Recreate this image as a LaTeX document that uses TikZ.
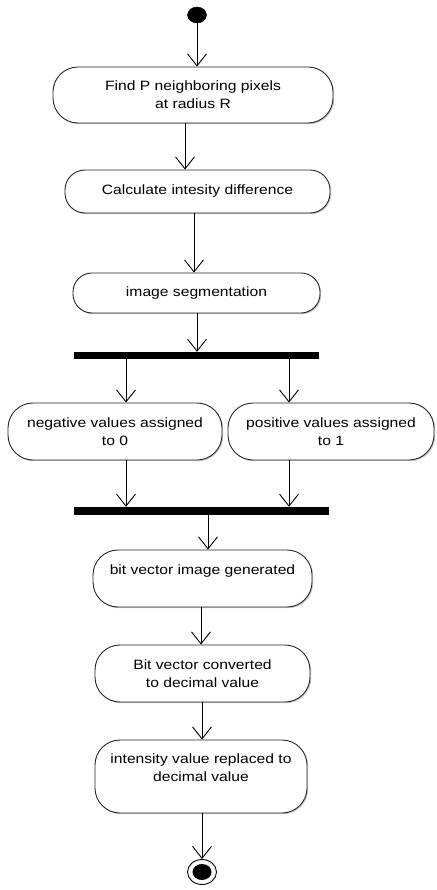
\documentclass[tikz,border=0pt]{standalone}
\usepackage{fontspec}
\setmainfont{Liberation Sans}[FakeStretch=1.16]
\usetikzlibrary{arrows.meta,shadows,shapes.geometric}
\tikzset{
  act/.style={draw=black!85, line width=0.9pt, fill=white, rounded corners=25pt,
    drop shadow={shadow xshift=1.2pt, shadow yshift=-1.2pt, fill=black!35, opacity=0.6},
    align=center, inner sep=0pt, font=\fontsize{13.5}{18}\selectfont},
  syncbar/.style={fill=black, draw=none, inner sep=0pt},
  flow/.style={draw=black, line width=0.9pt,
    -{Straight Barb[length=12pt, width=19pt, line width=0.9pt]}},
  initial/.style={ellipse, fill=black, draw=black, inner sep=0pt, minimum width=19pt, minimum height=16pt},
  final/.style={ellipse, draw=black, line width=0.9pt, fill=white, inner sep=0pt, minimum width=29pt, minimum height=25pt},
}
\begin{document}
\begin{tikzpicture}[x=1pt, y=-1pt]
\useasboundingbox (0,0) rectangle (436,890);

% start and activities
\node[initial] (start) at (197,15) {};
\node[act, minimum width=280pt, minimum height=56pt] (b1) at (193,95)
  {Find P neighboring pixels\\at radius R};
\node[act, rounded corners=20pt, minimum width=265pt, minimum height=43pt] (b2) at (197.5,191.5)
  {Calculate intesity difference};
\node[act, rounded corners=19pt, minimum width=247pt, minimum height=40pt] (b3) at (196.5,293)
  {image segmentation};
\node[syncbar, minimum width=245pt, minimum height=7pt] (fork) at (196.5,355.5) {};
\node[act, minimum width=214pt, minimum height=57pt] (b4) at (115,431.5)
  {negative values assigned\\to 0};
\node[act, minimum width=206pt, minimum height=57pt] (b5) at (331,431.5)
  {positive values assigned\\to 1};
\node[syncbar, minimum width=255pt, minimum height=8pt] (join) at (201.5,511) {};
\node[act, minimum width=219pt, minimum height=57pt] (b6) at (202.5,578.5)
  {bit vector image generated\\\mbox{}};
\node[act, minimum width=215pt, minimum height=57pt] (b7) at (202.5,673.5)
  {Bit vector converted\\to decimal value};
\node[act, minimum width=212pt, minimum height=73pt] (b8) at (201,776.5)
  {intensity value replaced to\\decimal value\\\mbox{}};
\node[final] (end) at (202,872) {};
\node[ellipse, fill=black, inner sep=0pt, minimum width=19pt, minimum height=16pt] (endin) at (end) {};

% control flow
\draw[flow] (start) -- ([xshift=4]b1.north);
\draw[flow] ([xshift=-8]b1.south) -- ([xshift=-12.5]b2.north);
\draw[flow] ([xshift=-3.5]b2.south) -- ([xshift=-2.5]b3.north);
\draw[flow] ([xshift=0.5]b3.south) -- ([xshift=0.5]fork.north);
\draw[flow] ([xshift=-70.5]fork.south) -- ([xshift=11]b4.north);
\draw[flow] ([xshift=92.5]fork.south) -- ([xshift=-42]b5.north);
\draw[flow] ([xshift=11]b4.south) -- ([xshift=-75.5]join.north);
\draw[flow] ([xshift=-42]b5.south) -- ([xshift=87.5]join.north);
\draw[flow] ([xshift=6.5]join.south) -- ([xshift=5.5]b6.north);
\draw[flow] ([xshift=-1.5]b6.south) -- ([xshift=-1.5]b7.north);
\draw[flow] ([xshift=-0.5]b7.south) -- ([xshift=1]b8.north);
\draw[flow] ([xshift=1]b8.south) -- (end.north);
\end{tikzpicture}
\end{document}
